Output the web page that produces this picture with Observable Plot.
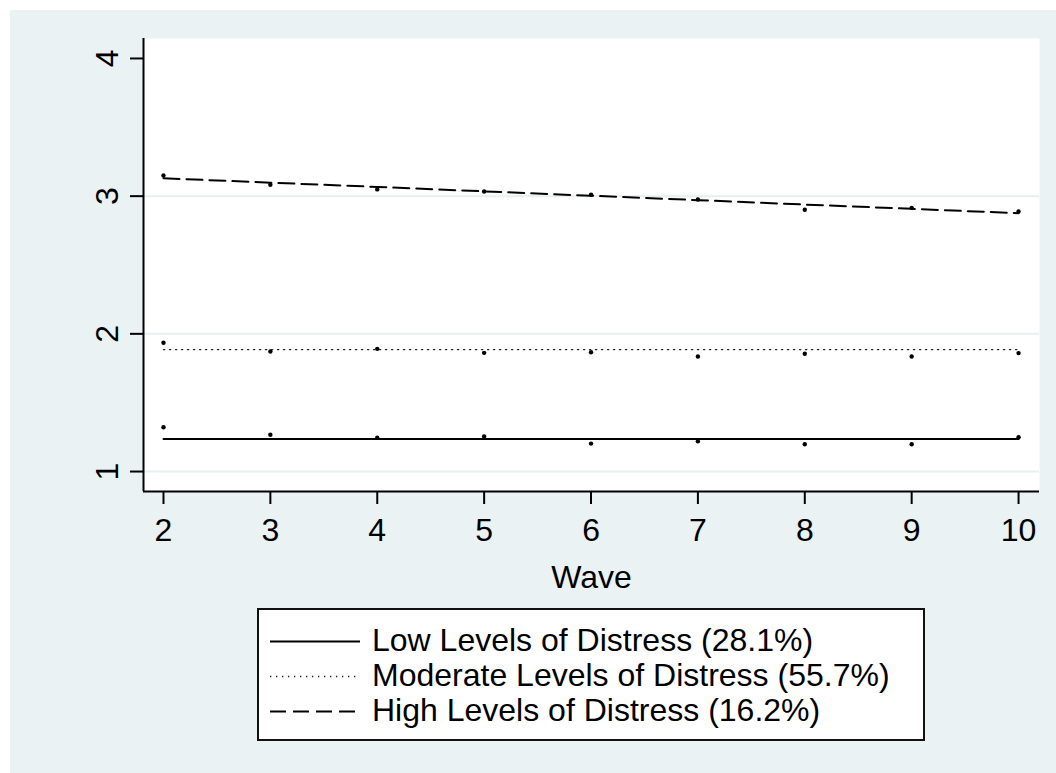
<!DOCTYPE html>
<html>
<head>
<meta charset="utf-8">
<script src="https://cdn.jsdelivr.net/npm/d3@7"></script>
<script src="https://cdn.jsdelivr.net/npm/@observablehq/plot@0.6"></script>
<style>
  html, body { margin: 0; padding: 0; background: #ffffff; }
  #page { position: relative; width: 1056px; height: 773px; overflow: hidden; background: #ffffff;
          font-family: "Liberation Sans", Arial, sans-serif; }
  #bg { position: absolute; left: 10px; top: 10px; right: 0; bottom: 0; background: #eaf2f3; }
  #chart { position: absolute; left: 0; top: 0; }
  #legend { position: absolute; left: 257px; top: 608px; width: 668px; height: 133px; box-sizing: border-box;
            border: 2px solid #111; background: #ffffff; padding: 12.5px 0 0 11px; }
  .row { display: flex; align-items: center; height: 35px; }
  .row svg { flex: none; margin-right: 12px; }
  .row span { font-size: 32px; line-height: 35px; white-space: nowrap; color: #000; }
</style>
</head>
<body>
<div id="page">
  <div id="bg"></div>
  <div id="chart"></div>
  <div id="legend"></div>
</div>
<script>
// Survey waves (x axis)
const waves = [2, 3, 4, 5, 6, 7, 8, 9, 10];

// Observed group means of distress per wave
const lowObserved      = [1.322, 1.267, 1.245, 1.254, 1.203, 1.220, 1.198, 1.198, 1.249];
const moderateObserved = [1.935, 1.872, 1.891, 1.862, 1.866, 1.835, 1.855, 1.835, 1.860];
const highObserved     = [3.150, 3.083, 3.049, 3.034, 3.010, 2.976, 2.901, 2.915, 2.889];

// Fitted trajectories per wave
const lowFitted      = [1.237, 1.237, 1.237, 1.237, 1.237, 1.237, 1.237, 1.237, 1.237];
const moderateFitted = [1.886, 1.886, 1.886, 1.886, 1.886, 1.886, 1.886, 1.886, 1.886];
const highFitted     = [3.130, 3.098, 3.067, 3.035, 3.003, 2.971, 2.939, 2.908, 2.876];

// Group labels, legend order
const groupLabels = [
  "Low Levels of Distress (28.1%)",
  "Moderate Levels of Distress (55.7%)",
  "High Levels of Distress (16.2%)"
];

// Axis ticks and grid
const xTicks = [2, 3, 4, 5, 6, 7, 8, 9, 10];
const yTicks = [1, 2, 3, 4];
const yGrid = [1, 2, 3];
const xDomain = [1.813, 10.196];
const yDomain = [0.855, 4.145];

// Line styles for the three trajectories
const lineStyles = [
  {stroke: "#000000", strokeWidth: 2, strokeDasharray: null},
  {stroke: "#222222", strokeWidth: 1.3, strokeDasharray: "1.3,4.7"},
  {stroke: "#000000", strokeWidth: 2, strokeDasharray: "16,7"}
];

const toRows = (ys) => waves.map((w, i) => ({wave: w, value: ys[i]}));
const fitted = [lowFitted, moderateFitted, highFitted].map(toRows);
const observed = [lowObserved, moderateObserved, highObserved].flatMap(toRows);

const chart = Plot.plot({
  width: 1056,
  height: 611,
  marginLeft: 143,
  marginRight: 17,
  marginTop: 38,
  marginBottom: 120,
  style: {background: "transparent", fontFamily: "'Liberation Sans', Arial, sans-serif", color: "#000", overflow: "visible"},
  x: {domain: xDomain},
  y: {domain: yDomain},
  marks: [
    Plot.frame({fill: "#ffffff", stroke: null}),
    Plot.gridY(yGrid, {stroke: "#e6eff1", strokeOpacity: 1, strokeWidth: 2}),
    ...fitted.map((rows, i) => Plot.line(rows, {x: "wave", y: "value", ...lineStyles[i]})),
    Plot.dot(observed, {x: "wave", y: "value", r: 2.2, fill: "#000", stroke: null}),
    Plot.ruleX([xDomain[0]], {stroke: "#000", strokeWidth: 2}),
    Plot.ruleY([yDomain[0]], {stroke: "#000", strokeWidth: 2}),
    Plot.axisX(xTicks, {tickSize: 13, tickPadding: 14, fontSize: 32, stroke: "#000", strokeWidth: 2,
                        tickFormat: (d) => String(d),
                        label: "Wave", labelAnchor: "center", labelOffset: 96, labelArrow: "none"}),
    Plot.axisY(yTicks, {tickSize: 13, tickPadding: 13, tickRotate: -90, fontSize: 32, stroke: "#000", strokeWidth: 2,
                        tickFormat: (d) => String(d), label: null})
  ]
});
document.getElementById("chart").appendChild(chart);

// Legend box below the plot
const legend = d3.select("#legend");
groupLabels.forEach((label, i) => {
  const row = legend.append("div").attr("class", "row");
  const svg = row.append("svg").attr("width", 90).attr("height", 35);
  svg.append("line")
    .attr("x1", 0).attr("x2", 90).attr("y1", 18.5).attr("y2", 18.5)
    .attr("stroke", lineStyles[i].stroke)
    .attr("stroke-width", lineStyles[i].strokeWidth)
    .attr("stroke-dasharray", lineStyles[i].strokeDasharray);
  row.append("span").text(label);
});
</script>
</body>
</html>
